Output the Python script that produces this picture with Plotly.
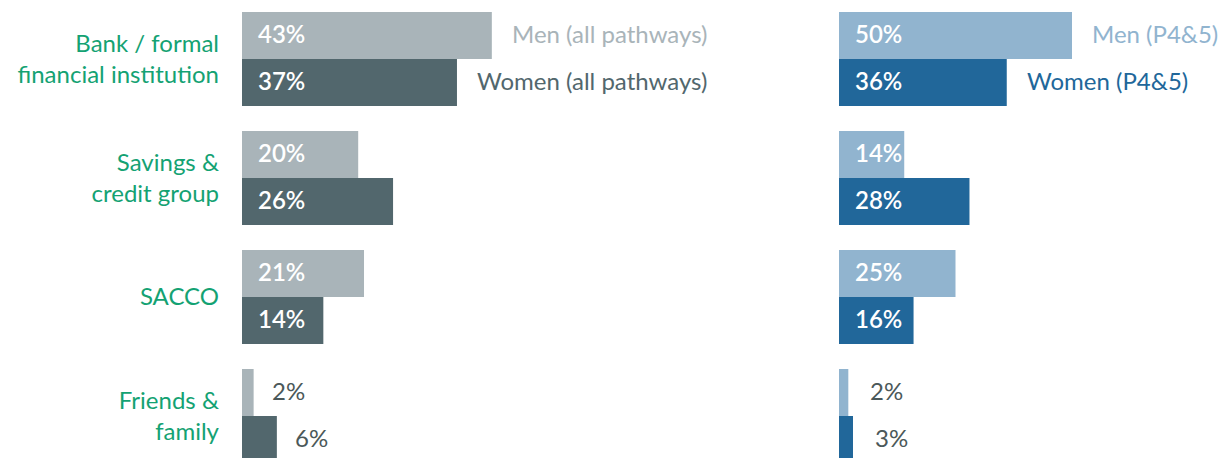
import plotly.graph_objects as go

# Data
categories = ["Bank / formal<br>financial institution", "Savings &<br>credit group", "SACCO", "Friends &<br>family"]
men_all = [43, 20, 21, 2]
women_all = [37, 26, 14, 6]
men_p45 = [50, 14, 25, 2]
women_p45 = [36, 28, 16, 3]
series_names = ["Men (all pathways)", "Women (all pathways)", "Men (P4&5)", "Women (P4&5)"]

W, H = 1219, 458
FONT = "Lato, 'Open Sans', sans-serif"
FS = 24
GREEN = "#14a273"
OUT_TEXT = "#4b5859"
colors = ["#a9b4b9", "#52676d", "#91b4cf", "#21679a"]

positions = list(range(len(categories)))
series = [men_all, women_all, men_p45, women_p45]
axes = [("x", "y"), ("x", "y"), ("x2", "y"), ("x2", "y")]

fig = go.Figure()
for vals, name, col, (xa, ya) in zip(series, series_names, colors, axes):
    fig.add_trace(go.Bar(
        y=positions, x=vals, orientation="h", name=name,
        marker=dict(color=col, line=dict(width=0)),
        xaxis=xa, yaxis=ya, hoverinfo="skip",
    ))

# Bar centre offsets inside each group (men above, women below)
BARGAP = 0.21
half = (1 - BARGAP) / 4
offsets = [-half, half, -half, half]
xrefs = ["x", "x", "x2", "x2"]
out_shift = [16, 16, 20, 20]

annotations = []
for k, vals in enumerate(series):
    for i, v in enumerate(vals):
        y = positions[i] + offsets[k]
        if v >= 10:
            annotations.append(dict(
                x=0, y=y, xref=xrefs[k], yref="y", text=f"{v}%",
                xanchor="left", yanchor="middle", xshift=14, yshift=2, showarrow=False,
                font=dict(family=FONT, size=FS, color="white", weight=600),
            ))
        else:
            annotations.append(dict(
                x=v, y=y, xref=xrefs[k], yref="y", text=f"{v}%",
                xanchor="left", yanchor="middle", xshift=out_shift[k], yshift=2,
                showarrow=False,
                font=dict(family=FONT, size=FS, color=OUT_TEXT),
            ))
    # series name beside the first group's bar
    annotations.append(dict(
        x=vals[0], y=positions[0] + offsets[k], xref=xrefs[k], yref="y",
        text=series_names[k], xanchor="left", yanchor="middle", xshift=18, yshift=2,
        showarrow=False, font=dict(family=FONT, size=FS, color=colors[k]),
    ))

fig.update_layout(
    width=W, height=H,
    margin=dict(l=0, r=0, t=0, b=0),
    paper_bgcolor="white", plot_bgcolor="white",
    showlegend=False, barmode="group", bargap=BARGAP, bargroupgap=0,
    annotations=annotations,
    xaxis=dict(domain=[242 / W, 800 / W], range=[0, 558 / 5.81], visible=False),
    xaxis2=dict(domain=[839 / W, 1], range=[0, 380 / 4.66], visible=False, anchor="y"),
    yaxis=dict(
        domain=[0, 1], range=[3.353, -0.496], anchor="x",
        tickvals=positions, ticktext=categories, ticks="",
        showgrid=False, zeroline=False, showline=False, automargin=False,
        ticklabelstandoff=22,
        tickfont=dict(family=FONT, size=FS, color=GREEN),
    ),
)

fig.write_html("out.html")
